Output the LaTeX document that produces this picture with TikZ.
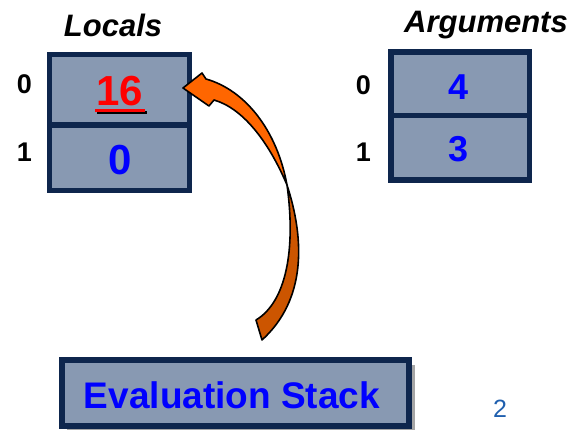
\documentclass[tikz,border=0pt]{standalone}
\usepackage{fontspec}
\setmainfont{Liberation Sans}
\definecolor{navy}{RGB}{14,38,77}
\definecolor{cellfill}{RGB}{136,153,178}
\definecolor{valblue}{RGB}{0,0,255}
\definecolor{valred}{RGB}{255,0,0}
\definecolor{shade}{RGB}{45,45,70}
\definecolor{arrowlight}{RGB}{255,102,0}
\definecolor{arrowdark}{RGB}{204,85,0}
\definecolor{pagenum}{RGB}{31,95,174}
\begin{document}
\begin{tikzpicture}[x=1pt,y=-1pt,
  cellbox/.style={draw=navy,fill=cellfill,line width=5.5pt},
  txt/.style={inner sep=0pt,anchor=base},
  title/.style={txt,font=\fontsize{31}{31}\selectfont\bfseries\itshape},
  idx/.style={txt,font=\fontsize{27}{27}\selectfont\bfseries},
  bigval/.style={txt,font=\fontsize{42}{42}\selectfont\bfseries},
  midval/.style={txt,font=\fontsize{36}{36}\selectfont\bfseries},
  evaltxt/.style={txt,font=\fontsize{37}{37}\selectfont\bfseries},
  arrowedge/.style={draw=black,line width=1.6pt,line join=round}]
\useasboundingbox (0,0) rectangle (573,430);

% Locals
\node[title] (loctitle) at (113,37) {Locals};
\draw[cellbox] (49.5,54.5) rectangle (189.5,125) coordinate (loc0);
\draw[cellbox] (49.5,125) rectangle (189.5,190.5) coordinate (loc1);
\node[idx] (li0) at (24.5,94) {0};
\node[idx] (li1) at (24.5,162) {1};
\draw[shade,line width=3pt] (96.8,112.8) -- (146.8,112.8);
\draw[valred,line width=3pt] (95,111) -- (145,111);
\node[bigval,text=valred] (v16) at (120,106) {16};
\node[bigval,text=valblue] (v0) at (120,175) {0};

% Arguments
\node[title] (argtitle) at (486,33) {Arguments};
\draw[cellbox] (391,52) rectangle (529.5,115.5) coordinate (arg0);
\draw[cellbox] (391,115.5) rectangle (529.5,180) coordinate (arg1);
\node[idx] (ai0) at (363.5,95) {0};
\node[idx] (ai1) at (363.5,162) {1};
\node[midval,text=valblue] (v4) at (459,100) {4};
\node[midval,text=valblue] (v3) at (459,162) {3};

% Evaluation stack
\fill[gray!70] (67,365) rectangle (415,431);
\draw[cellbox,line width=6pt] (62,360) rectangle (409,426);
\node[evaltxt,text=valblue] (eval) at (232,408) {Evaluation Stack};

% page number
\node[txt,font=\fontsize{25}{25}\selectfont,text=pagenum] (pnum) at (500,417) {2};

% curved arrow
\path[fill=arrowdark,arrowedge]
  (287,185) .. controls (305,240) and (306,300) .. (262,340)
  -- (256,320) .. controls (286,302) and (296,250) .. cycle;
\path[fill=arrowlight,arrowedge]
  (183,88) -- (202,73) -- (206,79)
  .. controls (245,90) and (277,130) .. (287,185)
  .. controls (268,140) and (242,108) .. (214,100)
  -- (209,106) -- cycle;
\end{tikzpicture}
\end{document}
